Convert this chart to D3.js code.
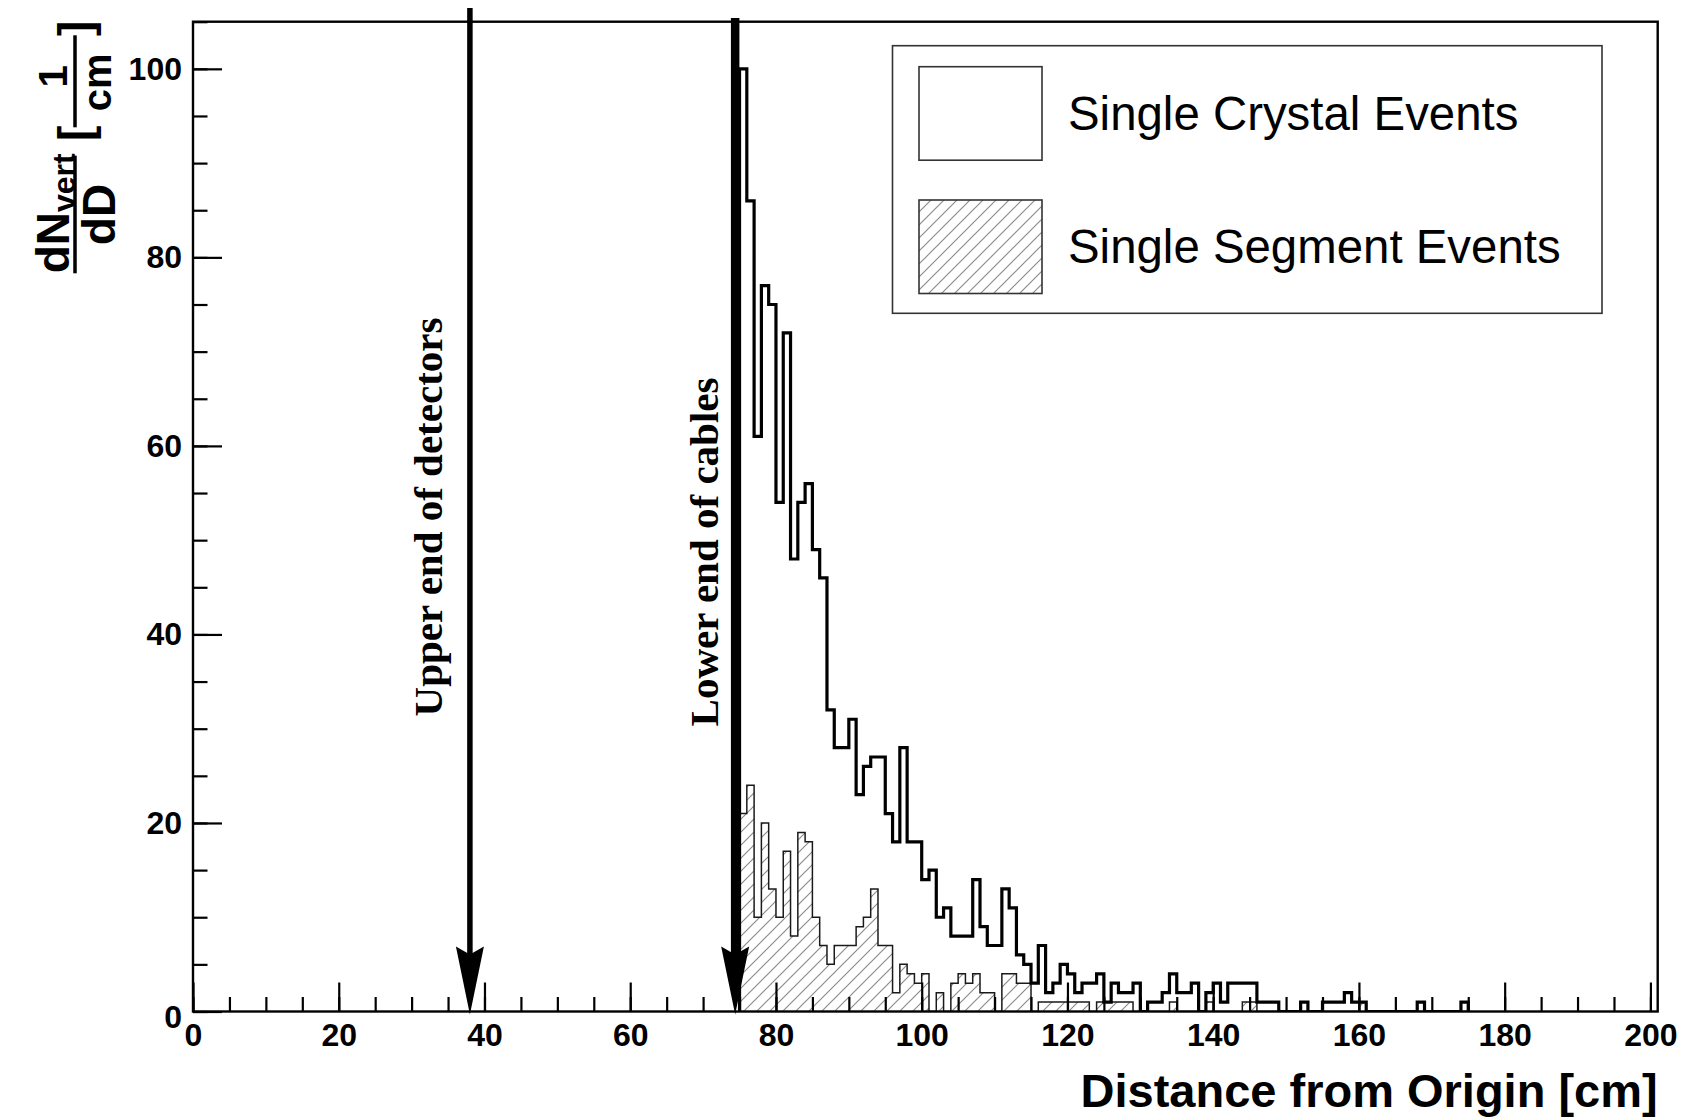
<!DOCTYPE html>
<html>
<head>
<meta charset="utf-8">
<script src="https://cdn.jsdelivr.net/npm/d3@7"></script>
<style>
  html, body { margin: 0; padding: 0; background: #fff; }
  svg { display: block; }
</style>
</head>
<body>
<svg id="chart" width="1686" height="1118"></svg>
<script>
// 1 cm bins; first filled bin starts at 75 cm
const binStart = 75;
const binWidth = 1;

// dN_vert/dD per bin, single crystal events (bins 75..174 cm)
const crystalCounts = [
  100, 86, 61, 77, 75, 54, 72, 48, 54, 56,   // 75-84
   49, 46, 32, 28, 28, 31, 23, 26, 27, 27,   // 85-94
   21, 18, 28, 18, 18, 14, 15, 10, 11,  8,   // 95-104
    8,  8, 14,  9,  7,  7, 13, 11,  6,  5,   // 105-114
    3,  7,  2,  3,  5,  4,  2,  3,  3,  4,   // 115-124
    1,  3,  2,  2,  3,  0,  1,  1,  2,  4,   // 125-134
    2,  2,  3,  0,  2,  3,  1,  3,  3,  3,   // 135-144
    3,  1,  1,  1,  0,  0,  0,  1,  0,  0,   // 145-154
    1,  1,  1,  2,  1,  1,  0,  0,  0,  0,   // 155-164
    0,  0,  0,  1,  0,  0,  0,  0,  0,  1    // 165-174
];

// dN_vert/dD per bin, single segment events (bins 75..174 cm)
const segmentCounts = [
   21, 24, 10, 20, 13, 10, 17,  8, 19, 18,   // 75-84
   10,  7,  5,  7,  7,  7,  9, 10, 13,  7,   // 85-94
    7,  2,  5,  4,  3,  4,  0,  2,  0,  3,   // 95-104
    4,  3,  4,  2,  2,  0,  4,  4,  3,  3,   // 105-114
    0,  1,  1,  1,  1,  1,  1,  1,  0,  1,   // 115-124
    1,  1,  1,  1,  0,  0,  0,  0,  0,  1,   // 125-134
    0,  0,  0,  0,  1,  0,  0,  0,  0,  1,   // 135-144
    1,  0,  0,  0,  0,  0,  0,  0,  0,  0,   // 145-154
    0,  0,  0,  0,  0,  1,  0,  0,  0,  0,   // 155-164
    0,  0,  0,  0,  0,  0,  0,  0,  0,  0    // 165-174
];

// Axis ticks and labels
const xMajorTicks = [0, 20, 40, 60, 80, 100, 120, 140, 160, 180, 200];
const xMinorTicks = d3.range(0, 201, 5);
const yMajorTicks = [0, 20, 40, 60, 80, 100];
const yMinorTicks = d3.range(0, 106, 5);
const xDomain = [0, 201];
const yDomain = [0, 105];

// Annotated positions (cm)
const markers = [
  { x: 38,   label: "Upper end of detectors", top: 8,  width: 5.5, textX: 428, textY: 517 },
  { x: 74.4, label: "Lower end of cables",    top: 18, width: 8.5, textX: 704, textY: 552 }
];

const legendItems = [
  { label: "Single Crystal Events", hatched: false },
  { label: "Single Segment Events", hatched: true }
];

const xTitle = "Distance from Origin [cm]";

// ---- layout ----
const frame = { left: 193, right: 1657.7, top: 21.7, bottom: 1011.5 };
const svg = d3.select("#chart");
const sans = "'Liberation Sans', Arial, Helvetica, sans-serif";
const serif = "'Liberation Serif', 'Times New Roman', serif";

const x = d3.scaleLinear().domain(xDomain).range([frame.left, frame.right]);
const y = d3.scaleLinear().domain(yDomain).range([frame.bottom, frame.top]);

// hatch pattern for segment events
const defs = svg.append("defs");
const hs = 13;
const hatch = defs.append("pattern")
  .attr("id", "hatch")
  .attr("patternUnits", "userSpaceOnUse")
  .attr("width", hs).attr("height", hs);
hatch.append("path")
  .attr("d", `M-1,1 L1,-1 M0,${hs} L${hs},0 M${hs - 1},${hs + 1} L${hs + 1},${hs - 1}`)
  .attr("stroke", "#8c8c8c").attr("stroke-width", 1.2).attr("fill", "none");

const clip = defs.append("clipPath").attr("id", "plotClip");
clip.append("rect")
  .attr("x", frame.left).attr("y", frame.top)
  .attr("width", frame.right - frame.left).attr("height", frame.bottom - frame.top);

// step outline of a histogram
function histPoints(counts) {
  const pts = [[binStart, 0]];
  counts.forEach((c, i) => pts.push([binStart + i * binWidth, c]));
  pts.push([binStart + counts.length * binWidth, 0]);
  return pts;
}
const stepLine = d3.line()
  .x(d => x(d[0])).y(d => y(d[1]))
  .curve(d3.curveStepAfter);

const plot = svg.append("g").attr("clip-path", "url(#plotClip)");

// Single segment events: hatched fill + thin outline
plot.append("path")
  .attr("d", stepLine(histPoints(segmentCounts)) + "Z")
  .attr("fill", "url(#hatch)")
  .attr("stroke", "none");
plot.append("path")
  .attr("d", stepLine(histPoints(segmentCounts)))
  .attr("fill", "none")
  .attr("stroke", "#1a1a1a")
  .attr("stroke-width", 1.5);

// Single crystal events: thick outline
plot.append("path")
  .attr("d", stepLine(histPoints(crystalCounts)))
  .attr("fill", "none")
  .attr("stroke", "#000")
  .attr("stroke-width", 3.2)
  .attr("stroke-linejoin", "miter");

// ---- axes (ticks drawn inside the frame) ----
const axisX = svg.append("g").attr("transform", `translate(0,${frame.bottom})`);
axisX.call(d3.axisBottom(x).tickValues(xMinorTicks).tickSize(-14.5).tickFormat(""));
axisX.append("g").call(d3.axisBottom(x).tickValues(xMajorTicks).tickSize(-29).tickPadding(12).tickFormat(d3.format("d")));
axisX.selectAll(".domain").remove();
axisX.selectAll("line").attr("stroke", "#000").attr("stroke-width", 2.2);
axisX.selectAll("text")
  .attr("font-family", sans).attr("font-weight", "bold").attr("font-size", 32)
  .attr("fill", "#000").attr("dy", "0.72em").attr("y", 11);

const axisY = svg.append("g").attr("transform", `translate(${frame.left},0)`);
axisY.call(d3.axisLeft(y).tickValues(yMinorTicks).tickSize(-14.5).tickFormat(""));
axisY.append("g").call(d3.axisLeft(y).tickValues(yMajorTicks).tickSize(-29).tickPadding(12).tickFormat(d3.format("d")));
axisY.selectAll(".domain").remove();
axisY.selectAll("line").attr("stroke", "#000").attr("stroke-width", 2.2);
axisY.selectAll("text")
  .attr("font-family", sans).attr("font-weight", "bold").attr("font-size", 32)
  .attr("fill", "#000").attr("x", -11);
// the zero label sits a little lower to clear the x-axis labels
axisY.selectAll(".tick").filter(d => d === 0).select("text").attr("dy", "0.5em");

// frame
svg.append("rect")
  .attr("x", frame.left).attr("y", frame.top)
  .attr("width", frame.right - frame.left).attr("height", frame.bottom - frame.top)
  .attr("fill", "none").attr("stroke", "#000").attr("stroke-width", 2.4);

// ---- arrows marking the detector / cable ends ----
markers.forEach(m => {
  const cx = x(m.x);
  const headLen = 68, headHalf = 14, notch = 8;
  const tipY = frame.bottom + 3;
  svg.append("line")
    .attr("x1", cx).attr("x2", cx)
    .attr("y1", m.top).attr("y2", tipY - headLen + notch + 2)
    .attr("stroke", "#000").attr("stroke-width", m.width);
  svg.append("path")
    .attr("d", `M${cx},${tipY} L${cx - headHalf},${tipY - headLen} L${cx},${tipY - headLen + notch} L${cx + headHalf},${tipY - headLen} Z`)
    .attr("fill", "#000");
  svg.append("text")
    .attr("transform", `translate(${m.textX},${m.textY}) rotate(-90)`)
    .attr("text-anchor", "middle")
    .attr("dy", "0.35em")
    .attr("font-family", serif).attr("font-weight", "bold").attr("font-size", 41)
    .attr("fill", "#000")
    .text(m.label);
});

// ---- legend ----
const lg = { x: 892.5, y: 45.7, w: 709.5, h: 267.6 };
svg.append("rect")
  .attr("x", lg.x).attr("y", lg.y).attr("width", lg.w).attr("height", lg.h)
  .attr("fill", "#fff").attr("stroke", "#333").attr("stroke-width", 1.6);
legendItems.forEach((item, i) => {
  const top = [66.7, 200][i];
  svg.append("rect")
    .attr("x", 919).attr("y", top).attr("width", 123).attr("height", 93.5)
    .attr("fill", item.hatched ? "url(#hatch)" : "#fff")
    .attr("stroke", "#333").attr("stroke-width", 1.6);
  svg.append("text")
    .attr("x", 1068).attr("y", top + 46.75)
    .attr("dy", "0.35em")
    .attr("font-family", sans).attr("font-size", 47.4)
    .attr("fill", "#000")
    .text(item.label);
});

// ---- axis titles ----
svg.append("text")
  .attr("x", frame.right).attr("y", 1107)
  .attr("text-anchor", "end")
  .attr("font-family", sans).attr("font-weight", "bold").attr("font-size", 47)
  .attr("fill", "#000")
  .text(xTitle);

// y title: dN_vert/dD [1/cm], written bottom-to-top
const yt = svg.append("g")
  .attr("transform", "translate(75,273.3) rotate(-90)")
  .attr("font-family", sans).attr("font-weight", "bold").attr("fill", "#000");
yt.append("line").attr("x1", 0).attr("x2", 117.6).attr("y1", 0).attr("y2", 0)
  .attr("stroke", "#000").attr("stroke-width", 3.5);
const num = yt.append("text").attr("x", 0).attr("y", -6).attr("font-size", 46);
num.append("tspan").text("dN");
num.append("tspan").attr("font-size", 32).attr("dy", 6).text("vert");
yt.append("text").attr("x", 58.8).attr("y", 40).attr("text-anchor", "middle")
  .attr("font-size", 46).text("dD");
yt.append("text").attr("x", 140).attr("y", 16).attr("text-anchor", "middle")
  .attr("font-size", 46).text("[");
yt.append("line").attr("x1", 146).attr("x2", 238).attr("y1", 0).attr("y2", 0)
  .attr("stroke", "#000").attr("stroke-width", 3.5);
yt.append("text").attr("x", 197).attr("y", -8).attr("text-anchor", "middle")
  .attr("font-size", 40).text("1");
yt.append("text").attr("x", 191).attr("y", 36).attr("text-anchor", "middle")
  .attr("font-size", 40).text("cm");
yt.append("text").attr("x", 245).attr("y", 16).attr("text-anchor", "middle")
  .attr("font-size", 46).text("]");
</script>
</body>
</html>
